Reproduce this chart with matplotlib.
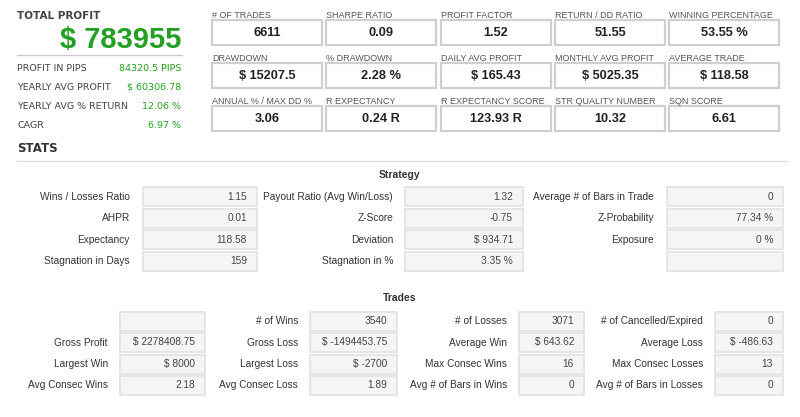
import matplotlib.pyplot as plt
from matplotlib.patches import Rectangle

# ---- data ----
total_profit = "$ 783955"
summary_names = ["PROFIT IN PIPS", "YEARLY AVG PROFIT", "YEARLY AVG % RETURN", "CAGR"]
summary_values = ["84320.5 PIPS", "$ 60306.78", "12.06 %", "6.97 %"]

card_labels = [
    ["# OF TRADES", "SHARPE RATIO", "PROFIT FACTOR", "RETURN / DD RATIO", "WINNING PERCENTAGE"],
    ["DRAWDOWN", "% DRAWDOWN", "DAILY AVG PROFIT", "MONTHLY AVG PROFIT", "AVERAGE TRADE"],
    ["ANNUAL % / MAX DD %", "R EXPECTANCY", "R EXPECTANCY SCORE", "STR QUALITY NUMBER", "SQN SCORE"],
]
card_values = [
    ["6611", "0.09", "1.52", "51.55", "53.55 %"],
    ["$ 15207.5", "2.28 %", "$ 165.43", "$ 5025.35", "$ 118.58"],
    ["3.06", "0.24 R", "123.93 R", "10.32", "6.61"],
]

strategy_labels = [
    ["Wins / Losses Ratio", "AHPR", "Expectancy", "Stagnation in Days"],
    ["Payout Ratio (Avg Win/Loss)", "Z-Score", "Deviation", "Stagnation in %"],
    ["Average # of Bars in Trade", "Z-Probability", "Exposure", ""],
]
strategy_values = [
    ["1.15", "0.01", "118.58", "159"],
    ["1.32", "-0.75", "$ 934.71", "3.35 %"],
    ["0", "77.34 %", "0 %", ""],
]

trades_labels = [
    ["", "Gross Profit", "Largest Win", "Avg Consec Wins"],
    ["# of Wins", "Gross Loss", "Largest Loss", "Avg Consec Loss"],
    ["# of Losses", "Average Win", "Max Consec Wins", "Avg # of Bars in Wins"],
    ["# of Cancelled/Expired", "Average Loss", "Max Consec Losses", "Avg # of Bars in Losses"],
]
trades_values = [
    ["", "$ 2278408.75", "$ 8000", "2.18"],
    ["3540", "$ -1494453.75", "$ -2700", "1.89"],
    ["3071", "$ 643.62", "16", "0"],
    ["0", "$ -486.63", "13", "0"],
]

GREEN = "#22a022"
SANS = "Liberation Sans"
VERD = "DejaVu Sans"


def draw_table(ax, labels, values, label_right, box_left, box_right, rows_y):
    for col in range(len(labels)):
        for r, y in enumerate(rows_y):
            ax.add_patch(Rectangle((box_left[col], y - 9.5), box_right[col] - box_left[col], 19,
                                   facecolor="#f5f5f5", edgecolor="#e2e2e2", lw=1.2))
            ax.text(label_right[col], y, labels[col][r], ha="right", va="center",
                    fontsize=7.3, color="#333333", family=SANS)
            ax.text(box_right[col] - 10, y, values[col][r], ha="right", va="center",
                    fontsize=7.3, color="#444444", family=SANS)


def main():
    fig = plt.figure(figsize=(8, 4.17), dpi=100)
    ax = fig.add_axes([0, 0, 1, 1])
    ax.set_xlim(0, 800)
    ax.set_ylim(417, 0)
    ax.set_axis_off()

    # left summary block
    ax.text(17, 16, "TOTAL PROFIT", ha="left", va="center", fontsize=7.5,
            fontweight="bold", color="#444444", family=VERD)
    ax.text(181, 40, total_profit, ha="right", va="center", fontsize=21,
            fontweight="bold", color=GREEN, family=SANS)
    ax.plot([17, 182], [55, 55], color="#cccccc", lw=1)
    for i, (name, val) in enumerate(zip(summary_names, summary_values)):
        y = 68 + i * 19
        ax.text(17, y, name, ha="left", va="center", fontsize=6.8,
                color="#444444", family=VERD)
        ax.text(181, y, val, ha="right", va="center", fontsize=6.8,
                color=GREEN, family=VERD)

    # top metric cards
    col_x = [212, 326, 441, 555, 669]
    card_w = 110
    for r in range(3):
        top = 20 + r * 43
        for c in range(5):
            x = col_x[c]
            ax.text(x, top - 5, card_labels[r][c], ha="left", va="center",
                    fontsize=6.5, color="#555555", family=SANS)
            ax.add_patch(Rectangle((x, top), card_w, 25, facecolor="white",
                                   edgecolor="#cfcfcf", lw=1.6))
            ax.text(x + card_w / 2, top + 12.5, card_values[r][c], ha="center",
                    va="center", fontsize=9.2, fontweight="bold", color="#222222",
                    family=SANS)

    # stats heading
    ax.text(17, 148, "STATS", ha="left", va="center", fontsize=8.5,
            fontweight="bold", color="#333333", family=VERD)
    ax.plot([17, 787], [161, 161], color="#dddddd", lw=1)

    # strategy table
    ax.text(400, 175, "Strategy", ha="center", va="center", fontsize=7.5,
            fontweight="bold", color="#333333", family=SANS)
    draw_table(ax, strategy_labels, strategy_values,
               label_right=[130, 393, 654],
               box_left=[143, 405, 667],
               box_right=[257, 523, 783],
               rows_y=[196.5, 218, 239.5, 261])

    # trades table
    ax.text(400, 298, "Trades", ha="center", va="center", fontsize=7.5,
            fontweight="bold", color="#333333", family=SANS)
    draw_table(ax, trades_labels, trades_values,
               label_right=[108, 298, 507, 703],
               box_left=[120, 310, 519, 715],
               box_right=[205, 397, 584, 783],
               rows_y=[321, 342.5, 364, 385.5])

    fig.savefig("out.png", dpi=100, facecolor="white")


if __name__ == "__main__":
    main()
